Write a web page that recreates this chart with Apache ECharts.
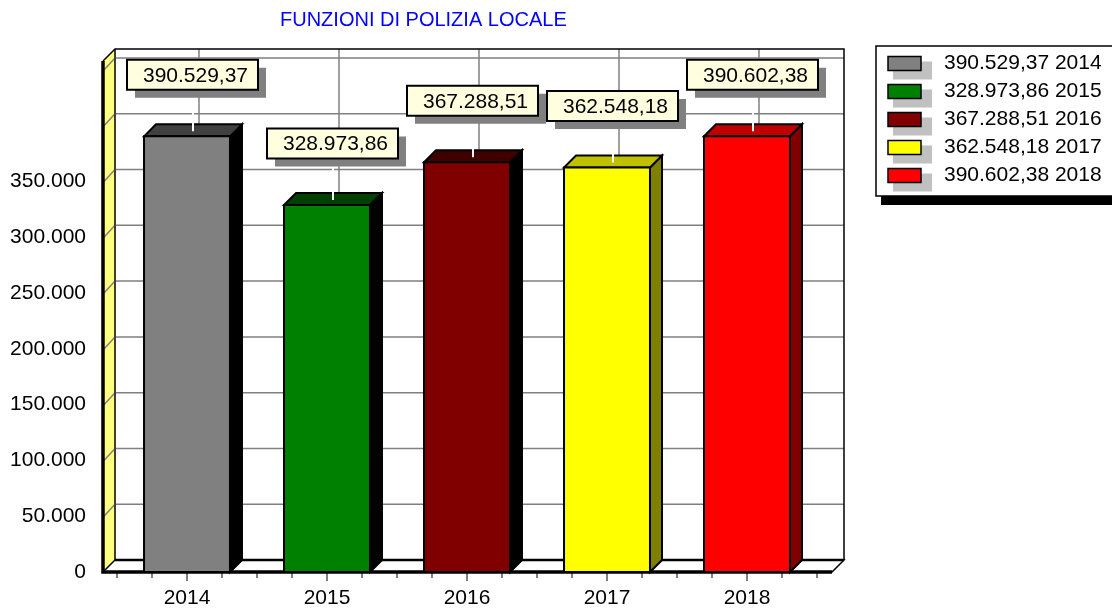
<!DOCTYPE html>
<html>
<head>
<meta charset="utf-8">
<script src="https://cdn.jsdelivr.net/npm/echarts@6/dist/echarts.min.js"></script>
<style>
  html, body { margin: 0; padding: 0; background: #fff; }
  #chart { width: 1112px; height: 610px; }
</style>
</head>
<body>
<div id="chart"></div>
<script>
// Spesa per funzioni di polizia locale, 2014-2018
const titleText = 'FUNZIONI DI POLIZIA LOCALE';
const years = ['2014', '2015', '2016', '2017', '2018'];
const amounts = [390529.37, 328973.86, 367288.51, 362548.18, 390602.38];

// value axis: 0 .. 450.000 in steps of 50.000, labels printed up to 350.000
const yMax = 450000;
const yStep = 50000;
const yLabelLimit = 350000;

// palette: front, top and side faces of each column
const frontColors = ['#808080', '#008000', '#800000', '#ffff00', '#ff0000'];
const topColors   = ['#404040', '#004000', '#400000', '#c0c000', '#c00000'];
const sideColors  = ['#000000', '#000000', '#000000', '#808000', '#800000'];

const FONT = '"Liberation Sans", Arial, Helvetica, sans-serif';
const DX = 12, DY = 12;          // depth offset of the 3D box
const BAR_RATIO = 0.614;         // column width as a share of the category band

// Italian number format: 390.529,37
function itNumber(v, decimals) {
  const parts = v.toFixed(decimals).split('.');
  const intPart = parts[0].replace(/\B(?=(\d{3})+(?!\d))/g, '.');
  return parts.length > 1 ? intPart + ',' + parts[1] : intPart;
}

const legendNames = amounts.map((v, i) => itNumber(v, 2) + ' ' + years[i]);

// walls, floor, grid lines and the front axis lines
function renderFrame(params, api) {
  const cs = params.coordSys;
  const yBase = api.coord([0, 0])[1];
  const yTopTick = api.coord([0, yMax])[1];
  const xl = cs.x - 14;
  const xr = cs.x + cs.width + 15;
  const yt = yTopTick - 9;
  const ch = [];

  // back wall
  ch.push({ type: 'rect', shape: { x: xl + DX, y: yt - DY, width: xr - xl, height: yBase - yt },
            style: { fill: '#ffffff' } });
  // left side wall
  ch.push({ type: 'polygon',
            shape: { points: [[xl, yBase], [xl + DX, yBase - DY], [xl + DX, yt - DY], [xl, yt]] },
            style: { fill: '#ffff80', stroke: '#000', lineWidth: 1 } });
  // horizontal grid lines across side wall and back wall
  for (let v = yStep; v <= yMax; v += yStep) {
    const y = api.coord([0, v])[1];
    ch.push({ type: 'polyline',
              shape: { points: [[xl + 1, y], [xl + DX, y - DY], [xr + DX, y - DY]] },
              style: { stroke: '#808080', lineWidth: 1.5, fill: null } });
  }
  // vertical grid lines at category centres on the back wall
  years.forEach((_, i) => {
    const x = api.coord([i, 0])[0] + DX;
    ch.push({ type: 'line', shape: { x1: x, y1: yt - DY, x2: x, y2: yBase - DY },
              style: { stroke: '#808080', lineWidth: 1.5 } });
  });
  // floor
  ch.push({ type: 'polygon',
            shape: { points: [[xl, yBase], [xl + DX, yBase - DY], [xr + DX, yBase - DY], [xr, yBase]] },
            style: { fill: '#ffffff', stroke: '#000', lineWidth: 1.5 } });
  ch.push({ type: 'line', shape: { x1: xl + DX, y1: yBase - DY, x2: xr + DX, y2: yBase - DY },
            style: { stroke: '#000', lineWidth: 2.5 } });
  // back wall outline
  ch.push({ type: 'polyline',
            shape: { points: [[xl, yt], [xl + DX, yt - DY], [xr + DX, yt - DY], [xr + DX, yBase - DY]] },
            style: { stroke: '#000', lineWidth: 1.5, fill: null } });
  ch.push({ type: 'line', shape: { x1: xl + DX, y1: yt - DY, x2: xl + DX, y2: yBase - DY },
            style: { stroke: '#000', lineWidth: 1 } });
  // front axis lines
  ch.push({ type: 'polyline',
            shape: { points: [[xl, yt], [xl, yBase], [xr, yBase]] },
            style: { stroke: '#000', lineWidth: 3.5, fill: null } });
  return { type: 'group', children: ch };
}

// one 3D column with its value tag
function makeBarRenderer(k) {
  return function (params, api) {
    const i = api.value(0);
    const v = api.value(1);
    const base = api.coord([i, 0]);
    const top = api.coord([i, v]);
    const w = api.size([1, 0])[0] * BAR_RATIO;
    const cx = base[0];
    const x0 = cx - w / 2, x1 = cx + w / 2;
    const yb = base[1], yt = top[1];
    const edge = { stroke: '#000', lineWidth: 2, lineJoin: 'miter' };

    const boxW = 131, boxH = 30;
    const boxX = cx - 60;
    const boxBottom = yt - 46.5;
    const boxY = boxBottom - boxH;

    return {
      type: 'group',
      children: [
        { type: 'polygon',
          shape: { points: [[x1, yt], [x1 + DX, yt - DY], [x1 + DX, yb - DY], [x1, yb]] },
          style: Object.assign({ fill: sideColors[k] }, edge) },
        { type: 'polygon',
          shape: { points: [[x0, yt], [x0 + DX, yt - DY], [x1 + DX, yt - DY], [x1, yt]] },
          style: Object.assign({ fill: topColors[k] }, edge) },
        { type: 'rect', shape: { x: x0, y: yt, width: w, height: yb - yt },
          style: Object.assign({ fill: frontColors[k] }, edge) },
        // leader from the column top to the tag
        { type: 'line', shape: { x1: cx + 6, y1: yt - 5, x2: cx + 6, y2: boxBottom },
          style: { stroke: '#ffffff', lineWidth: 2 } },
        // tag shadow, tag and value
        { type: 'rect', shape: { x: boxX + 8, y: boxY + 8, width: boxW, height: boxH },
          style: { fill: '#808080' } },
        { type: 'rect', shape: { x: boxX, y: boxY, width: boxW, height: boxH },
          style: { fill: '#ffffe0', stroke: '#000', lineWidth: 2 } },
        { type: 'text',
          style: { text: itNumber(v, 2), x: boxX + boxW / 2 + 3, y: boxY + boxH / 2 + 1,
                   align: 'center', verticalAlign: 'middle',
                   fontSize: 21, fontFamily: FONT, fill: '#000' } }
      ]
    };
  };
}

const series = [{
  type: 'custom',
  name: 'frame',
  z: 1,
  clip: false,
  silent: true,
  data: [[0, 0]],
  renderItem: renderFrame
}];
amounts.forEach((v, k) => {
  series.push({
    type: 'custom',
    name: legendNames[k],
    z: 2,
    clip: false,
    itemStyle: { color: frontColors[k] },
    data: [[k, v]],
    renderItem: makeBarRenderer(k)
  });
});

// legend panel: framed box with a hard black drop shadow, swatches with grey shadows
const LEG_X = 876, LEG_Y = 46, LEG_W = 300, LEG_H = 150;
const ROW0 = 63.5, ROW_STEP = 28;
const legendGraphics = [
  { type: 'rect', x: LEG_X + 5, y: LEG_Y + 9, shape: { width: LEG_W, height: LEG_H },
    style: { fill: '#000' }, z: 10 },
  { type: 'rect', x: LEG_X, y: LEG_Y, shape: { width: LEG_W, height: LEG_H },
    style: { fill: '#fff', stroke: '#000', lineWidth: 1.5 }, z: 11 }
];
legendNames.forEach((name, k) => {
  const cy = ROW0 + ROW_STEP * k;
  legendGraphics.push(
    { type: 'rect', x: LEG_X + 17, y: cy - 2, shape: { width: 39, height: 18 },
      style: { fill: '#c0c0c0' }, z: 12 },
    { type: 'rect', x: LEG_X + 12, y: cy - 7, shape: { width: 33, height: 14 },
      style: { fill: frontColors[k], stroke: '#000', lineWidth: 1.5 }, z: 13 },
    { type: 'text', x: LEG_X + 68, y: cy,
      style: { text: name, fontSize: 21, fontFamily: FONT, fill: '#000', verticalAlign: 'middle' }, z: 13 }
  );
});

const chart = echarts.init(document.getElementById('chart'), null, { renderer: 'canvas' });
chart.setOption({
  backgroundColor: '#ffffff',
  animation: false,
  graphic: [
    { type: 'text', x: 280, y: 20,
      style: { text: titleText, font: '20px ' + FONT, fill: '#0000ff', verticalAlign: 'middle' } }
  ].concat(legendGraphics),
  grid: { left: 117, width: 700, top: 70, bottom: 38, containLabel: false, outerBoundsMode: 'none' },
  xAxis: [
    {
      type: 'category',
      data: years,
      position: 'bottom',
      boundaryGap: true,
      axisLine: { show: false },
      axisTick: { show: true, alignWithLabel: true, interval: 0, length: 9,
                  lineStyle: { color: '#555', width: 1.5 } },
      axisLabel: { fontSize: 21, fontFamily: FONT, color: '#000', margin: 16, interval: 0 },
      splitLine: { show: false }
    },
    {
      type: 'value',
      min: -0.5,
      max: 4.5,
      interval: 0.25,
      position: 'bottom',
      axisLine: { show: false },
      axisTick: { show: true, length: 6, lineStyle: { color: '#555', width: 1.5 } },
      axisLabel: { show: false },
      splitLine: { show: false }
    }
  ],
  yAxis: {
    type: 'value',
    min: 0,
    max: yMax,
    interval: yStep,
    offset: 15,
    axisLine: { show: false },
    splitLine: { show: false },
    axisTick: { show: true, length: 9, lineStyle: { color: '#555', width: 1.5 } },
    minorTick: { show: true, splitNumber: 4, length: 7, lineStyle: { color: '#555', width: 1.5 } },
    axisLabel: {
      fontSize: 21, fontFamily: FONT, color: '#000', margin: 16,
      formatter: v => (v > yLabelLimit ? '' : itNumber(v, 0))
    }
  },
  series: series
});
</script>
</body>
</html>
